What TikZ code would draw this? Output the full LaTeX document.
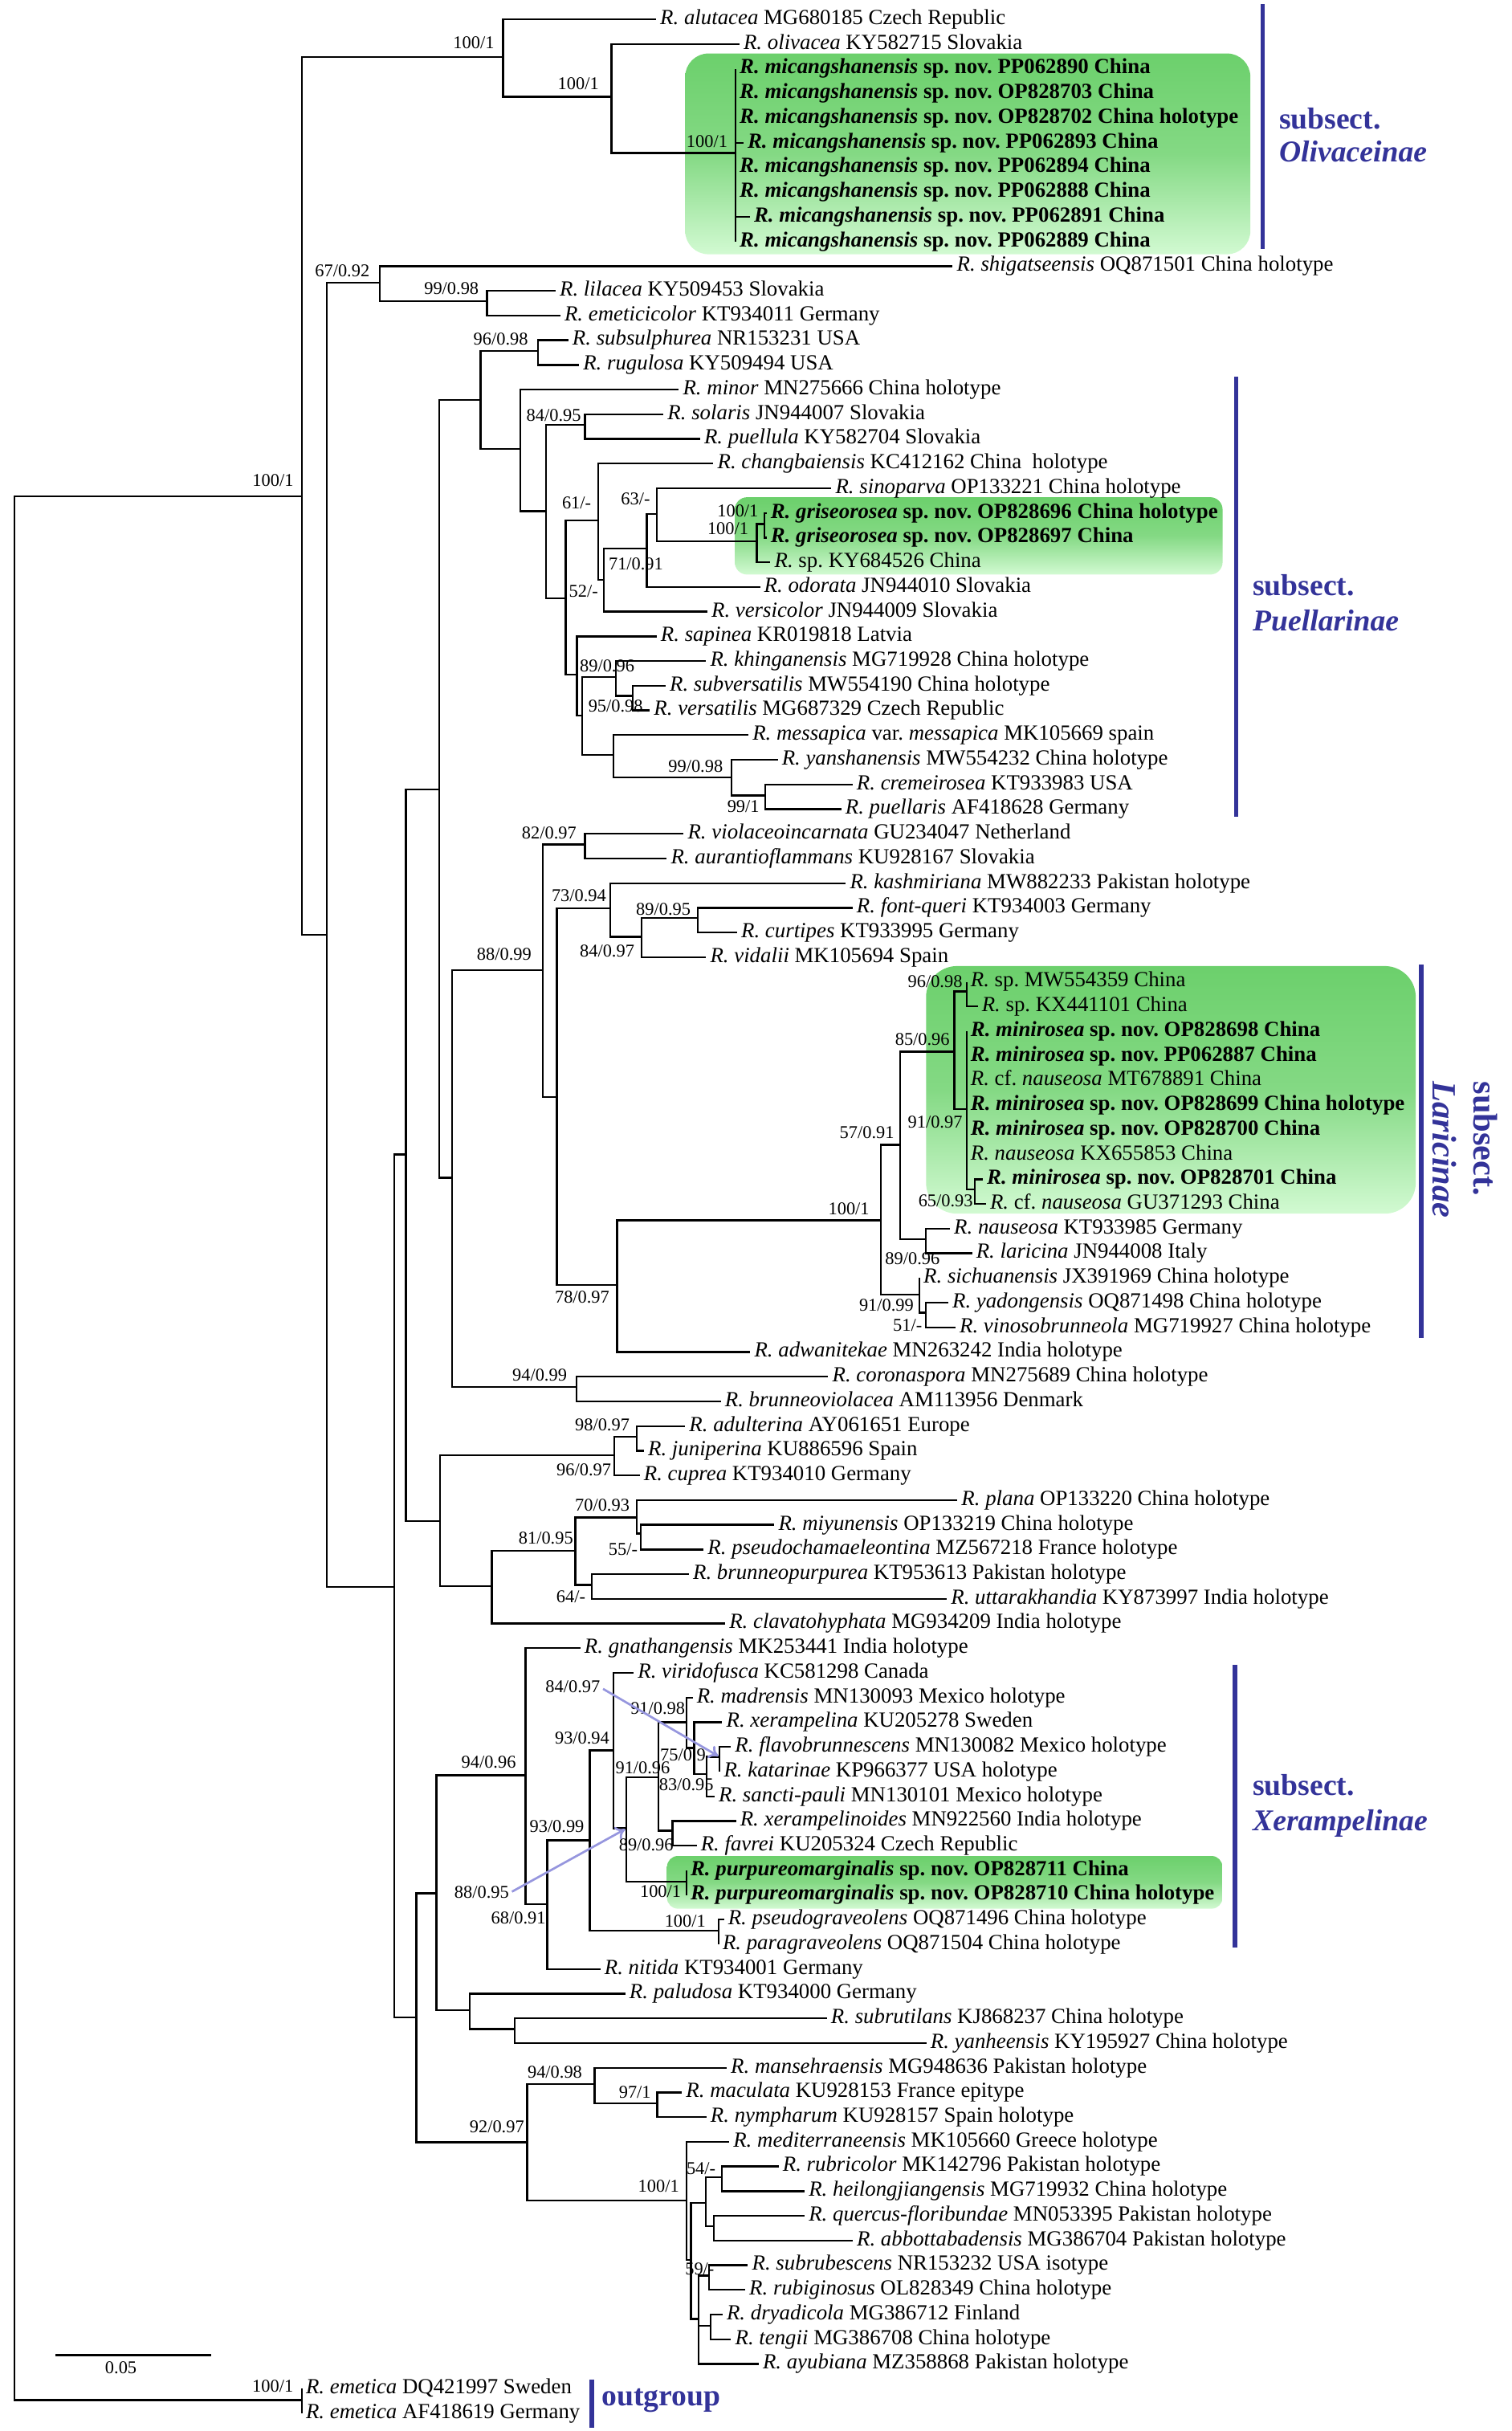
\documentclass[tikz,border=0pt]{standalone}
\usepackage{fontspec}
\setmainfont{Liberation Serif}
\usetikzlibrary{arrows.meta}
\definecolor{grpblue}{RGB}{51,51,153}
\definecolor{gtop}{RGB}{108,208,108}
\definecolor{gmid}{RGB}{132,217,132}
\definecolor{gbot}{RGB}{210,250,210}
\definecolor{arrowc}{RGB}{150,150,222}
\newcommand\tipfont{\fontsize{13.9}{15}\selectfont\frenchspacing}
\newcommand\supfont{\fontsize{11.6}{13}\selectfont}
\newcommand\grpfont{\fontsize{19.5}{22}\selectfont\bfseries}
\newcommand\grpLfont{\fontsize{22}{24}\selectfont\bfseries}
\newcommand\rowy[1]{12.5+15.918*#1}
\newcommand\innode[4]{\coordinate (#2) at (#3,#4); \draw[br] (#1) |- (#2);}
\newcommand\leafnode[4]{\node[tiplab] (t#2) at (#3,{\rowy{#2}}) {#4}; \draw[br] (#1) |- (t#2.west);}
\newcommand\supval[4]{\node[sup] (#1) at (#2,#3) {#4};}
\newcommand\nsp[2]{\textbf{\textit{R. #1} sp. nov. #2}}
\tikzset{
  br/.style={line width=1.2pt},
  tiplab/.style={anchor=west, inner xsep=2.5pt, inner ysep=0pt, text height=0.66em, text depth=0pt, font=\tipfont},
  sup/.style={anchor=east, inner sep=0pt, text height=0.68em, text depth=0pt, font=\supfont},
  grp/.style={text=grpblue, font=\grpfont, inner sep=0pt},
  grpL/.style={text=grpblue, font=\grpLfont, inner sep=0pt},
  gbar/.style={draw=grpblue, line width=3pt},
  gbox/.style={rounded corners=#1, top color=gtop, bottom color=gbot, middle color=gmid},
  arr/.style={draw=arrowc, line width=1.4pt, -{To[length=6pt,width=9pt]}}
}
\begin{document}
\begin{tikzpicture}[x=1pt,y=-1pt]
\useasboundingbox (0,0) rectangle (975,1568);
% green highlight boxes
\path[gbox=15pt] (442,34.5) rectangle (806.6,164);
\path[gbox=8pt] (474,320.7) rectangle (788.7,370.6);
\path[gbox=20pt] (597.4,623.1) rectangle (913.3,782.8);
\path[gbox=7pt] (430.3,1197.1) rectangle (788.6,1231.1);
% root
\coordinate (root) at (9.3,934);
\innode{root}{Nin}{194.7}{320.1}
\innode{root}{Nout}{194.7}{1548}
\leafnode{Nout}{96}{194.7}{\textit{R. emetica} DQ421997 Sweden}
\leafnode{Nout}{97}{194.7}{\textit{R. emetica} AF418619 Germany}
% Olivaceinae
\innode{Nin}{Ntop}{324.5}{36.7}
\leafnode{Ntop}{0}{423.2}{\textit{R. alutacea} MG680185 Czech Republic}
\innode{Ntop}{Noliv}{394.4}{62.4}
\leafnode{Noliv}{1}{477}{\textit{R. olivacea} KY582715 Slovakia}
\innode{Noliv}{Nmic}{474.5}{98.7}
\leafnode{Nmic}{2}{474.5}{\nsp{micangshanensis}{PP062890 China}}
\leafnode{Nmic}{3}{474.5}{\nsp{micangshanensis}{OP828703 China}}
\leafnode{Nmic}{4}{474.5}{\nsp{micangshanensis}{OP828702 China holotype}}
\leafnode{Nmic}{5}{479.6}{\nsp{micangshanensis}{PP062893 China}}
\leafnode{Nmic}{6}{474.5}{\nsp{micangshanensis}{PP062894 China}}
\leafnode{Nmic}{7}{474.5}{\nsp{micangshanensis}{PP062888 China}}
\leafnode{Nmic}{8}{483.7}{\nsp{micangshanensis}{PP062891 China}}
\leafnode{Nmic}{9}{474.5}{\nsp{micangshanensis}{PP062889 China}}
% main ingroup
\innode{Nin}{N210}{210.8}{603}
\innode{N210}{N67}{245}{182.3}
\leafnode{N67}{10}{614.6}{\textit{R. shigatseensis} OQ871501 China holotype}
\innode{N67}{Nlil}{314.2}{194.2}
\leafnode{Nlil}{11}{358.4}{\textit{R. lilacea} KY509453 Slovakia}
\leafnode{Nlil}{12}{361.5}{\textit{R. emeticicolor} KT934011 Germany}
\innode{N210}{N254}{254.2}{1023.4}
\innode{N254}{N262}{261.9}{744.6}
\innode{N254}{N268}{268.5}{1301.3}
\innode{N262}{N283}{283.5}{509.3}
\innode{N262}{N284}{283.9}{981}
\innode{N283}{N310}{310}{258}
\innode{N283}{N292}{291.8}{759.6}
\innode{N310}{N347}{347.2}{226.4}
\leafnode{N347}{13}{366.6}{\textit{R. subsulphurea} NR153231 USA}
\leafnode{N347}{14}{373.5}{\textit{R. rugulosa} KY509494 USA}
\innode{N310}{N336}{335.8}{289.4}
\leafnode{N336}{15}{437.9}{\textit{R. minor} MN275666 China holotype}
\innode{N336}{N352}{352.2}{329.7}
\innode{N352}{N377}{377.4}{274}
\leafnode{N377}{16}{428}{\textit{R. solaris} JN944007 Slovakia}
\leafnode{N377}{17}{451.6}{\textit{R. puellula} KY582704 Slovakia}
\innode{N352}{N365}{364.9}{385.8}
\innode{N365}{N61}{386}{335.8}
\leafnode{N61}{18}{460.2}{\textit{R. changbaiensis} KC412162 China\ \ holotype}
\innode{N61}{N52}{389.7}{373.9}
\innode{N52}{N71}{417.3}{353.9}
\leafnode{N52}{24}{456.3}{\textit{R. versicolor} JN944009 Slovakia}
\innode{N71}{N63}{423.7}{331.4}
\leafnode{N71}{23}{490.3}{\textit{R. odorata} JN944010 Slovakia}
\leafnode{N63}{19}{536.3}{\textit{R. sinoparva} OP133221 China holotype}
\innode{N63}{Ng1}{488.2}{349.2}
\innode{Ng1}{Ng2}{493.3}{338}
\leafnode{Ng1}{22}{497}{\textit{R.} sp. KY684526 China}
\leafnode{Ng2}{20}{494.5}{\nsp{griseorosea}{OP828696 China holotype}}
\leafnode{Ng2}{21}{494.5}{\nsp{griseorosea}{OP828697 China}}
\innode{N365}{N372}{372.2}{435}
\leafnode{N372}{25}{423.6}{\textit{R. sapinea} KR019818 Latvia}
\innode{N372}{N376}{375.6}{461.7}
\innode{N376}{N89}{397.4}{436.7}
\leafnode{N89}{26}{455.5}{\textit{R. khinganensis} MG719928 China holotype}
\innode{N89}{N95}{408.3}{448.8}
\leafnode{N95}{27}{429.4}{\textit{R. subversatilis} MW554190 China holotype}
\leafnode{N95}{28}{419.2}{\textit{R. versatilis} MG687329 Czech Republic}
\innode{N376}{Nmsp}{395.6}{486.8}
\leafnode{Nmsp}{29}{482.8}{\textit{R. messapica} var. \textit{messapica} MK105669 spain}
\innode{Nmsp}{N99}{471.9}{501.4}
\leafnode{N99}{30}{501.7}{\textit{R. yanshanensis} MW554232 China holotype}
\innode{N99}{N991}{493.7}{513}
\leafnode{N991}{31}{550}{\textit{R. cremeirosea} KT933983 USA}
\leafnode{N991}{32}{542.7}{\textit{R. puellaris} AF418628 Germany}
% Laricinae and relatives
\innode{N292}{N350}{350.2}{625.7}
\innode{N350}{N82}{377.4}{544.6}
\leafnode{N82}{33}{441}{\textit{R. violaceoincarnata} GU234047 Netherland}
\leafnode{N82}{34}{430.1}{\textit{R. aurantioflammans} KU928167 Slovakia}
\innode{N350}{N359}{359.3}{707.5}
\innode{N359}{N73}{393.8}{586}
\leafnode{N73}{35}{545.6}{\textit{R. kashmiriana} MW882233 Pakistan holotype}
\innode{N73}{N84}{413.8}{604.2}
\innode{N84}{N89b}{450.1}{592.1}
\leafnode{N89b}{36}{550}{\textit{R. font-queri} KT934003 Germany}
\leafnode{N89b}{37}{475.5}{\textit{R. curtipes} KT933995 Germany}
\leafnode{N84}{38}{455.5}{\textit{R. vidalii} MK105694 Spain}
\innode{N359}{N78}{398.1}{828.7}
\innode{N78}{N100L}{568.1}{787.1}
\leafnode{N78}{54}{484}{\textit{R. adwanitekae} MN263242 India holotype}
\innode{N100L}{N57}{580.6}{738.4}
\innode{N57}{N85}{615.7}{678.4}
\innode{N85}{N96}{623.5}{639.5}
\leafnode{N96}{39}{623.5}{\textit{R.} sp. MW554359 China}
\leafnode{N96}{40}{630.7}{\textit{R.} sp. KX441101 China}
\innode{N85}{N91}{623.5}{715.5}
\leafnode{N91}{41}{623.5}{\nsp{minirosea}{OP828698 China}}
\leafnode{N91}{42}{623.5}{\nsp{minirosea}{PP062887 China}}
\leafnode{N91}{43}{623.5}{\textit{R.} cf. \textit{nauseosa} MT678891 China}
\leafnode{N91}{44}{623.5}{\nsp{minirosea}{OP828699 China holotype}}
\leafnode{N91}{45}{623.5}{\nsp{minirosea}{OP828700 China}}
\leafnode{N91}{46}{623.5}{\textit{R. nauseosa} KX655853 China}
\innode{N91}{N65}{629}{767.3}
\leafnode{N65}{47}{634}{\nsp{minirosea}{OP828701 China}}
\leafnode{N65}{48}{636}{\textit{R.} cf. \textit{nauseosa} GU371293 China}
\innode{N57}{N89c}{597.4}{799.2}
\leafnode{N89c}{49}{612.8}{\textit{R. nauseosa} KT933985 Germany}
\leafnode{N89c}{50}{627.1}{\textit{R. laricina} JN944008 Italy}
\innode{N100L}{N91b}{593.1}{835.1}
\leafnode{N91b}{51}{593.1}{\textit{R. sichuanensis} JX391969 China holotype}
\innode{N91b}{N51}{597.4}{846.7}
\leafnode{N51}{52}{611.7}{\textit{R. yadongensis} OQ871498 China holotype}
\leafnode{N51}{53}{616.4}{\textit{R. vinosobrunneola} MG719927 China holotype}
\innode{N292}{N94}{371.8}{894.5}
\leafnode{N94}{55}{534.3}{\textit{R. coronaspora} MN275689 China holotype}
\leafnode{N94}{56}{465}{\textit{R. brunneoviolacea} AM113956 Denmark}
% middle clades
\innode{N284}{N96b}{396.4}{938.5}
\innode{N96b}{N98}{410.7}{926.6}
\leafnode{N98}{57}{442}{\textit{R. adulterina} AY061651 Europe}
\leafnode{N98}{58}{415.4}{\textit{R. juniperina} KU886596 Spain}
\leafnode{N96b}{59}{412.7}{\textit{R. cuprea} KT934010 Germany}
\innode{N284}{N317}{317.2}{1023.1}
\innode{N317}{N81}{371.1}{1000.3}
\innode{N81}{N70}{410.7}{978.8}
\leafnode{N70}{60}{617.6}{\textit{R. plana} OP133220 China holotype}
\innode{N70}{N55}{413.5}{989.1}
\leafnode{N55}{61}{499.5}{\textit{R. miyunensis} OP133219 China holotype}
\leafnode{N55}{62}{453.9}{\textit{R. pseudochamaeleontina} MZ567218 France holotype}
\innode{N81}{N64}{381.8}{1022.3}
\leafnode{N64}{63}{444.4}{\textit{R. brunneopurpurea} KT953613 Pakistan holotype}
\leafnode{N64}{64}{610.8}{\textit{R. uttarakhandia} KY873997 India holotype}
\leafnode{N317}{65}{467.8}{\textit{R. clavatohyphata} MG934209 India holotype}
% Xerampelinae and relatives
\innode{N268}{N281}{281.5}{1221.1}
\innode{N281}{N339}{339.1}{1145}
\leafnode{N339}{66}{374.4}{\textit{R. gnathangensis} MK253441 India holotype}
\innode{N339}{N353}{353}{1228.2}
\innode{N353}{N380}{380.5}{1187}
\leafnode{N353}{79}{387.3}{\textit{R. nitida} KT934001 Germany}
\innode{N380}{N395}{395.7}{1128.9}
\leafnode{N395}{67}{408.8}{\textit{R. viridofusca} KC581298 Canada}
\innode{N395}{N404}{404.2}{1179.3}
\innode{N404}{N91c}{424.6}{1146.2}
\innode{N91c}{N91d}{442.8}{1110.8}
\leafnode{N91d}{68}{446.8}{\textit{R. madrensis} MN130093 Mexico holotype}
\innode{N91d}{N75}{447.8}{1127.5}
\leafnode{N75}{69}{465.9}{\textit{R. xerampelina} KU205278 Sweden}
\innode{N75}{N83}{456}{1144.4}
\innode{N83}{Nfk}{464.3}{1133.2}
\leafnode{Nfk}{70}{471.5}{\textit{R. flavobrunnescens} MN130082 Mexico holotype}
\leafnode{Nfk}{71}{464.3}{\textit{R. katarinae} KP966377 USA holotype}
\leafnode{N83}{72}{461}{\textit{R. sancti-pauli} MN130101 Mexico holotype}
\innode{N91c}{Nxf}{433.9}{1180.7}
\leafnode{Nxf}{73}{474.8}{\textit{R. xerampelinoides} MN922560 India holotype}
\leafnode{Nxf}{74}{449.4}{\textit{R. favrei} KU205324 Czech Republic}
\innode{N404}{N100pm}{442.8}{1213.8}
\leafnode{N100pm}{75}{442.8}{\nsp{purpureomarginalis}{OP828711 China}}
\leafnode{N100pm}{76}{442.8}{\nsp{purpureomarginalis}{OP828710 China holotype}}
\innode{N380}{N100pg}{463.5}{1245.4}
\leafnode{N100pg}{77}{467}{\textit{R. pseudograveolens} OQ871496 China holotype}
\leafnode{N100pg}{78}{463.5}{\textit{R. paragraveolens} OQ871504 China holotype}
\innode{N281}{N303}{303}{1296.5}
\leafnode{N303}{80}{403.4}{\textit{R. paludosa} KT934000 Germany}
\innode{N303}{N332}{332.2}{1308.7}
\leafnode{N332}{81}{533.4}{\textit{R. subrutilans} KJ868237 China holotype}
\leafnode{N332}{82}{597.6}{\textit{R. yanheensis} KY195927 China holotype}
% bottom clade
\innode{N268}{N92}{340}{1381.8}
\innode{N92}{N94b}{383.6}{1344.2}
\leafnode{N94b}{83}{468.8}{\textit{R. mansehraensis} MG948636 Pakistan holotype}
\innode{N94b}{N97}{424}{1356.8}
\leafnode{N97}{84}{439.9}{\textit{R. maculata} KU928153 France epitype}
\leafnode{N97}{85}{455.7}{\textit{R. nympharum} KU928157 Spain holotype}
\innode{N92}{N100m}{442.8}{1419.3}
\leafnode{N100m}{86}{470.4}{\textit{R. mediterraneensis} MK105660 Greece holotype}
\innode{N100m}{Nb}{445.7}{1457.8}
\innode{Nb}{N54}{455.4}{1420.7}
\innode{N54}{Nrh}{465.7}{1404.3}
\leafnode{Nrh}{87}{502.3}{\textit{R. rubricolor} MK142796 Pakistan holotype}
\leafnode{Nrh}{88}{519.1}{\textit{R. heilongjiangensis} MG719932 China holotype}
\innode{N54}{Nqa}{460.5}{1435.9}
\leafnode{Nqa}{89}{519.1}{\textit{R. quercus-floribundae} MN053395 Pakistan holotype}
\leafnode{Nqa}{90}{550.1}{\textit{R. abbottabadensis} MG386704 Pakistan holotype}
\innode{Nb}{Nc}{450.5}{1495.8}
\innode{Nc}{N59}{457.4}{1467.7}
\leafnode{N59}{91}{482.5}{\textit{R. subrubescens} NR153232 USA isotype}
\leafnode{N59}{92}{480.7}{\textit{R. rubiginosus} OL828349 China holotype}
\innode{Nc}{Ndt}{458.3}{1500.1}
\leafnode{Ndt}{93}{466.1}{\textit{R. dryadicola} MG386712 Finland}
\leafnode{Ndt}{94}{471.6}{\textit{R. tengii} MG386708 China holotype}
\leafnode{Nc}{95}{489.4}{\textit{R. ayubiana} MZ358868 Pakistan holotype}
% support values
\supval{sIn}{189.5}{310}{100/1}
\supval{sTop}{319}{28}{100/1}
\supval{sOliv}{386.5}{54.5}{100/1}
\supval{sMic}{469.5}{91.5}{100/1}
\supval{s67}{238.6}{175}{67/0.92}
\supval{sLil}{309}{186.4}{99/0.98}
\supval{s96a}{340.8}{219}{96/0.98}
\supval{s84a}{375}{268.5}{84/0.95}
\supval{s61}{381.5}{324.5}{61/-}
\supval{s63}{419.5}{322}{63/-}
\supval{sG2}{489.4}{329.7}{100/1}
\supval{sG1}{483}{341.5}{100/1}
\supval{s71}{428}{364.2}{71/0.91}
\supval{s52}{386}{381.7}{52/-}
\supval{s89a}{409.4}{430}{89/0.96}
\supval{s95}{414.9}{455.7}{95/0.98}
\supval{s99a}{466.5}{494.5}{99/0.98}
\supval{s99b}{490}{520.4}{99/1}
\supval{s82}{372}{537.7}{82/0.97}
\supval{s73}{391.2}{578.3}{73/0.94}
\supval{s89b}{445.7}{586.9}{89/0.95}
\supval{s84b}{409.4}{613.6}{84/0.97}
\supval{s88a}{343}{616}{88/0.99}
\supval{s96b}{621}{633.5}{96/0.98}
\supval{s85}{612.8}{670.6}{85/0.96}
\supval{s91a}{621}{724.1}{91/0.97}
\supval{s57}{577}{731}{57/0.91}
\supval{s65}{627.8}{775}{65/0.93}
\supval{s100L}{561}{780.2}{100/1}
\supval{s89c}{606.4}{812.2}{89/0.96}
\supval{s78}{393.3}{837.3}{78/0.97}
\supval{s91b}{589.6}{842.4}{91/0.99}
\supval{s51}{595}{855.3}{51/-}
\supval{s94a}{365.9}{887.3}{94/0.99}
\supval{s98}{406.3}{919.2}{98/0.97}
\supval{s96c}{394.4}{948.5}{96/0.97}
\supval{s70}{406.3}{971}{70/0.93}
\supval{s81}{369.9}{992.6}{81/0.95}
\supval{s55}{411.5}{999.5}{55/-}
\supval{s64}{377.8}{1030.5}{64/-}
\supval{s84c}{387.3}{1088.3}{84/0.97}
\supval{s91c}{442.1}{1102.1}{91/0.98}
\supval{s93a}{393.3}{1121.5}{93/0.94}
\supval{s75}{455.4}{1132.4}{75/0.9}
\supval{s94b}{333}{1136.9}{94/0.96}
\supval{s91d}{432.4}{1140.6}{91/0.96}
\supval{s83}{460.5}{1151.3}{83/0.95}
\supval{s93b}{377}{1178.6}{93/0.99}
\supval{s89d}{434.6}{1190.2}{89/0.96}
\supval{s100pm}{439.5}{1220.4}{100/1}
\supval{s88b}{328.5}{1221.1}{88/0.95}
\supval{s68}{352.2}{1237.5}{68/0.91}
\supval{s100pg}{455.4}{1239.5}{100/1}
\supval{s94c}{375.7}{1336.8}{94/0.98}
\supval{s97}{420.1}{1349.7}{97/1}
\supval{s92}{338.3}{1371.9}{92/0.97}
\supval{s54}{461.8}{1399.1}{54/-}
\supval{s100m}{438.3}{1410.4}{100/1}
\supval{s59}{460.9}{1463.9}{59/-}
\supval{sOut}{189.4}{1539.3}{100/1}
% arrows from labels
\draw[arr, shorten <=2pt, shorten >=1pt] (s84c.east) -- (Nfk);
\draw[arr, shorten <=2pt, shorten >=1pt] (s88b.east) -- (N404);
% scale bar
\coordinate (sbl) at (36,1519);
\coordinate (sbr) at (136,1519);
\draw[br] (sbl) -- (sbr);
\node[sup, anchor=center] (sbt) at (78,1527.5) {0.05};
% group bars and labels
\draw[gbar] (814.5,2.6) -- (814.5,160.5);
\node[grp, anchor=base west] (gO1) at (825,83) {subsect.};
\node[grp, anchor=base west] (gO2) at (825,104.5) {\textit{Olivaceinae}};
\draw[gbar] (797.5,243) -- (797.5,527);
\node[grp, anchor=base west] (gP1) at (808,384) {subsect.};
\node[grp, anchor=base west] (gP2) at (808,407) {\textit{Puellarinae}};
\draw[gbar] (916.9,622.3) -- (916.9,863);
\node[grpL, rotate=-90, anchor=west] (gL1) at (958.5,697.4) {subsect.};
\node[grpL, rotate=-90, anchor=west] (gL2) at (932,697.4) {\textit{Laricinae}};
\draw[gbar] (796.5,1073.7) -- (796.5,1256.3);
\node[grp, anchor=base west] (gX1) at (808,1158) {subsect.};
\node[grp, anchor=base west] (gX2) at (808,1181) {\textit{Xerampelinae}};
\draw[gbar] (381.6,1535) -- (381.6,1566);
\node[grp, anchor=west] (gOut) at (388,1548.5) {outgroup};
\end{tikzpicture}
\end{document}
